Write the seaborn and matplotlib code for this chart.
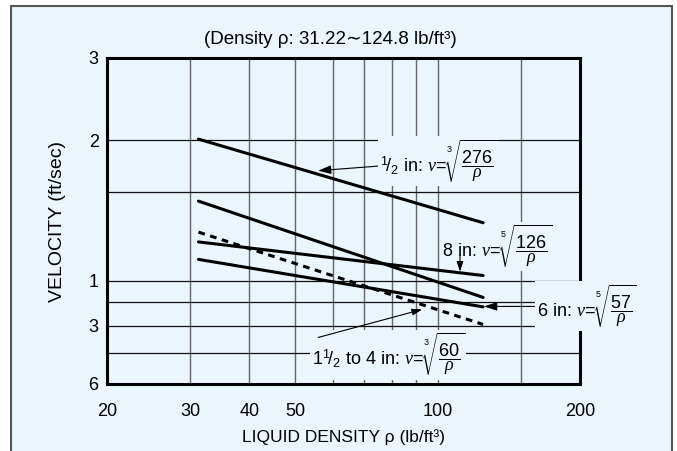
import numpy as np
import pandas as pd
import matplotlib
matplotlib.use('Agg')
import matplotlib.pyplot as plt
from matplotlib.patches import Rectangle
import seaborn as sns

# densities at the ends of the lines (lb/ft3)
rho = [31.22, 124.8]
# velocity (ft/sec) at both ends
v_half = [2.01, 1.33]
v_steep = [1.48, 0.92]
v_8in = [1.21, 1.025]
v_6in = [1.11, 0.878]
v_1to4 = [1.27, 0.805]

xticks = [20, 30, 40, 50, 100, 200]
yticks = [3, 2, 1, 0.8, 0.6]
ytick_labels = ['3', '2', '1', '3', '6']
xgrid = [30, 40, 50, 60, 70, 80, 90, 100, 150]
ygrid = [2, 1.55, 1, 0.9, 0.8, 0.7]

bg = '#EAF5FC'

sns.set_style('white')
plt.rcParams['font.family'] = ['Liberation Sans', 'DejaVu Sans']
plt.rcParams['text.color'] = 'black'
plt.rcParams['xtick.color'] = 'black'
plt.rcParams['ytick.color'] = 'black'
plt.rcParams['mathtext.fontset'] = 'custom'
plt.rcParams['mathtext.rm'] = 'Liberation Sans'
plt.rcParams['mathtext.it'] = 'Liberation Serif:italic'
plt.rcParams['mathtext.sf'] = 'Liberation Sans'

fig = plt.figure(figsize=(6.77, 4.51), dpi=100, facecolor='white')
# outer light-blue panel
fig.patches.append(Rectangle((11/677, -0.1), 661/677, 1 - 6/451 + 0.1, transform=fig.transFigure,
                             facecolor=bg, edgecolor='#555555', lw=1.5, zorder=-10))

ax = fig.add_axes([107/677, 1 - 384/451, 473/677, 326/451])
ax.set_zorder(1)
ax.set_facecolor(bg)
ax.set_xscale('log')
ax.set_yscale('log')
ax.set_xlim(20, 200)
ax.set_ylim(0.6, 3)

for x in xgrid:
    ax.axvline(x, color='#666666', lw=1.0, zorder=1)
for y in ygrid:
    ax.axhline(y, color='#111111', lw=0.9, zorder=1)

# data lines sit above the label boxes
for vals in [v_half, v_steep, v_8in, v_6in]:
    sns.lineplot(x=rho, y=vals, color='black', lw=2.2, ax=ax, zorder=6)
sns.lineplot(x=rho, y=v_1to4, color='black', lw=2.2, ax=ax, zorder=6, linestyle=(0, (2.2, 1.8)))

ax.xaxis.set_minor_locator(matplotlib.ticker.NullLocator())
ax.yaxis.set_minor_locator(matplotlib.ticker.NullLocator())
ax.set_xticks(xticks)
ax.set_xticklabels([str(t) for t in xticks])
ax.set_yticks(yticks)
ax.set_yticklabels(ytick_labels)
ax.tick_params(axis='x', length=0, pad=14, labelsize=13)
ax.tick_params(axis='y', length=0, pad=6, labelsize=13)
for s in ax.spines.values():
    s.set_color('black')
    s.set_linewidth(2.2)
    s.set_zorder(4)
ax.set_xlabel('')
ax.set_ylabel('')

fig.text(343/677, 1 - 437/451, 'LIQUID DENSITY ρ (lb/ft³)', ha='center', va='center', fontsize=12.5)
fig.text(57/677, 1 - 221/451, 'VELOCITY (ft/sec)', ha='center', va='center', rotation=90, fontsize=14)
fig.text(330/677, 1 - 40/451, '(Density ρ: 31.22\u223c124.8 lb/ft³)', ha='center', va='center', fontsize=13.5)

box = dict(boxstyle='square,pad=0.08', facecolor=bg, edgecolor='none')
arrow = dict(arrowstyle='-|>,head_length=0.6,head_width=0.2', color='black', lw=0.8, shrinkA=0, shrinkB=0)

ax.annotate(r'$^{1}\!/_{2}$ in: $v\!=\!\sqrt[3]{\dfrac{276}{\rho}}$', xy=(55.9, 1.72), xytext=(75.5, 1.80),
            ha='left', va='center', fontsize=13, bbox=box, arrowprops=arrow, zorder=5, annotation_clip=False)
ax.text(102, 1.183, r'8 in: $v\!=\!\sqrt[5]{\dfrac{126}{\rho}}$', ha='left', va='center', fontsize=13,
        bbox=box, zorder=5, clip_on=False)
ax.annotate('', xy=(111.5, 1.045), xytext=(111.5, 1.131), arrowprops=arrow, zorder=7)
ax.annotate(r'6 in: $v\!=\!\sqrt[5]{\dfrac{57}{\rho}}$', xy=(125.4, 0.88), xytext=(162, 0.88),
            ha='left', va='center', fontsize=13, bbox=box, arrowprops=arrow, zorder=5, annotation_clip=False)
ax.text(54.2, 0.694, r'1$^{1}\!/_{2}$ to 4 in: $v\!=\!\sqrt[3]{\dfrac{60}{\rho}}$', ha='left', va='center',
        fontsize=13, bbox=box, zorder=5, clip_on=False)
ax.annotate('', xy=(92.7, 0.867), xytext=(55.9, 0.755), arrowprops=arrow, zorder=7)

fig.savefig('out.png', dpi=100, facecolor=fig.get_facecolor())
